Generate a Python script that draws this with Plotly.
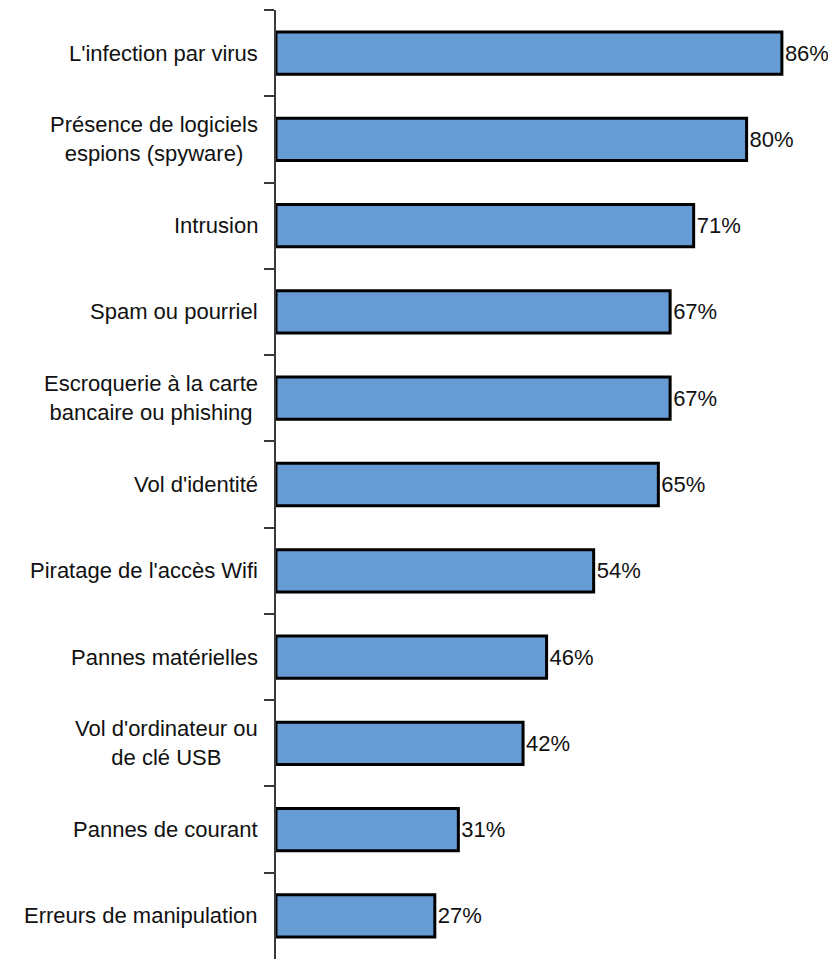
import plotly.graph_objects as go

categories = [
    "L'infection par virus",
    "Présence de logiciels<br>espions (spyware)",
    "Intrusion",
    "Spam ou pourriel",
    "Escroquerie à la carte<br>bancaire ou phishing",
    "Vol d'identité",
    "Piratage de l'accès Wifi",
    "Pannes matérielles",
    "Vol d'ordinateur ou<br>de clé USB",
    "Pannes de courant",
    "Erreurs de manipulation",
]
values = [86, 80, 71, 67, 67, 65, 54, 46, 42, 31, 27]
value_labels = [f"{v}%" for v in values]

FONT = "Liberation Sans, Arial, sans-serif"

fig = go.Figure(
    go.Bar(
        x=values,
        y=categories,
        orientation="h",
        marker=dict(color="#669bd4", line=dict(color="#000000", width=3)),
        text=value_labels,
        textposition="outside",
        textfont=dict(family=FONT, size=22, color="#111111"),
        cliponaxis=False,
        width=0.49,
    )
)

annotations = []
for c in categories:
    annotations.append(
        dict(
            x=0, xref="paper", y=c, yref="y",
            text=c, showarrow=False,
            xanchor="right", yanchor="middle", align="center",
            xshift=-16,
            font=dict(family=FONT, size=22, color="#111111"),
        )
    )

# page body has an 8px default margin, so the figure is sized/margined to compensate
fig.update_layout(
    width=828, height=955,
    margin=dict(l=268, r=0, t=2, b=4),
    paper_bgcolor="white", plot_bgcolor="white",
    showlegend=False,
    annotations=annotations,
    xaxis=dict(range=[0, 95.2], visible=False),
    yaxis=dict(
        type="category",
        autorange="reversed",
        categoryorder="array", categoryarray=categories,
        showline=True, linecolor="#3a3a3a", linewidth=2,
        ticks="outside", ticklen=10, tickwidth=2, tickcolor="#3a3a3a",
        tickson="boundaries",
        showticklabels=False,
        showgrid=False, zeroline=False,
    ),
)

fig.write_html("out.html")
